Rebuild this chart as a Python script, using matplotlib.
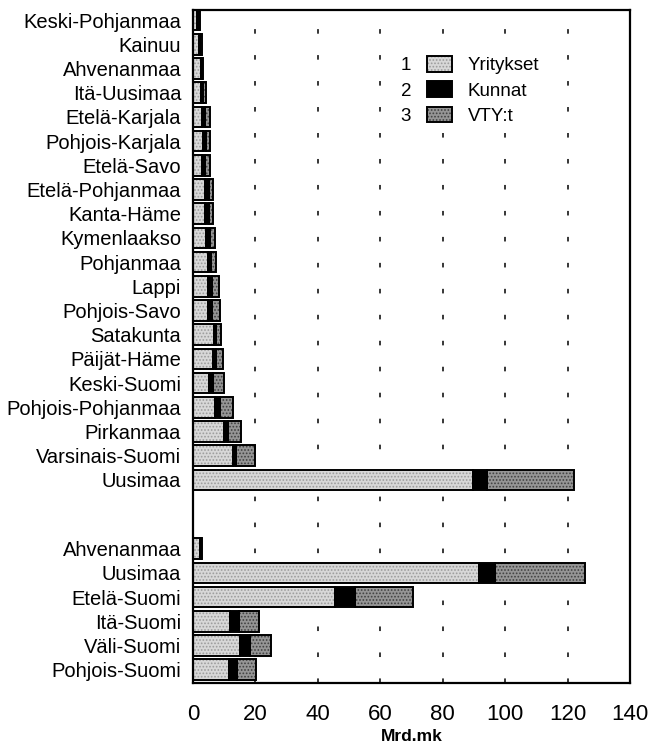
import matplotlib
matplotlib.use("Agg")
import matplotlib.pyplot as plt
from matplotlib.patches import Patch, Rectangle
from matplotlib.legend_handler import HandlerPatch
import numpy as np

# ---- data ----
regions = ['Keski-Pohjanmaa', 'Kainuu', 'Ahvenanmaa', 'Itä-Uusimaa', 'Etelä-Karjala',
           'Pohjois-Karjala', 'Etelä-Savo', 'Etelä-Pohjanmaa', 'Kanta-Häme', 'Kymenlaakso',
           'Pohjanmaa', 'Lappi', 'Pohjois-Savo', 'Satakunta', 'Päijät-Häme', 'Keski-Suomi',
           'Pohjois-Pohjanmaa', 'Pirkanmaa', 'Varsinais-Suomi', 'Uusimaa']
reg_yritykset = [1.3, 1.8, 2.6, 2.6, 3.0, 3.1, 3.0, 4.0, 4.0, 4.3,
                 4.7, 4.8, 4.7, 6.6, 6.5, 5.1, 7.1, 9.8, 12.7, 89.6]
reg_kunnat = [0.5, 0.6, 0.2, 0.7, 0.9, 1.0, 0.9, 1.0, 1.2, 1.1,
              1.2, 1.3, 1.4, 0.8, 0.9, 1.4, 1.6, 1.5, 1.1, 4.6]
reg_vty = [0.4, 0.5, 0.3, 1.0, 1.5, 1.5, 1.5, 1.5, 1.3, 1.6,
           1.4, 2.3, 2.5, 1.5, 2.3, 3.5, 4.0, 4.1, 6.1, 27.9]

areas = ['Ahvenanmaa', 'Uusimaa', 'Etelä-Suomi', 'Itä-Suomi', 'Väli-Suomi', 'Pohjois-Suomi']
area_yritykset = [2.4, 91.5, 45.5, 11.8, 15.0, 11.4]
area_kunnat = [0.2, 5.1, 6.5, 2.8, 3.3, 2.6]
area_vty = [0.2, 29.0, 18.4, 6.7, 6.7, 6.2]

series_names = ['Yritykset', 'Kunnat', 'VTY:t']
x_ticks = [0, 20, 40, 60, 80, 100, 120, 140]
x_label = 'Mrd.mk'

plt.rcParams['font.family'] = ['Liberation Sans', 'DejaVu Sans']
plt.rcParams['hatch.linewidth'] = 0.8

fig = plt.figure(figsize=(6.51, 7.47), dpi=100)
ax = fig.add_axes([193/651, 1-683/747, (630-193)/651, (683-10)/747])

labels = regions + areas
pos = list(np.arange(len(regions), dtype=float)) + list(len(regions) - 1 + 2.85 + np.arange(len(areas)))
Y = np.array(reg_yritykset + area_yritykset)
K = np.array(reg_kunnat + area_kunnat)
V = np.array(reg_vty + area_vty)

h = 0.85
styles = [
    dict(face='#d8d8d8', hatch='.....', hc='#9c9c9c'),
    dict(face='#000000', hatch=None, hc='#000000'),
    dict(face='#959595', hatch='.....', hc='#404040'),
]
lefts = [np.zeros_like(Y), Y, Y + K]
vals = [Y, K, V]
handles = []
for st, left, v, name in zip(styles, lefts, vals, series_names):
    ax.barh(pos, v, left=left, height=h, color=st['face'], edgecolor=st['hc'],
            hatch=st['hatch'], linewidth=0, zorder=2)
    ax.barh(pos, v, left=left, height=h, fill=False, edgecolor='black',
            linewidth=1.4, zorder=3)
    handles.append(Patch(facecolor=st['face'], edgecolor=st['hc'], hatch=st['hatch'],
                         linewidth=0))

ax.set_xlim(0, 140)
ax.set_ylim(27.4, -0.42)
ax.set_yticks(pos)
ax.set_yticklabels(labels, fontsize=14.5)
ax.set_xticks(x_ticks)
ax.set_xticklabels([str(t) for t in x_ticks], fontsize=16)
ax.tick_params(axis='both', length=0)
ax.tick_params(axis='y', pad=8.5)
ax.tick_params(axis='x', pad=15)
for s in ax.spines.values():
    s.set_linewidth(1.6)

for xv in x_ticks[1:-1]:
    ax.axvline(xv, color='black', linewidth=1.1, linestyle=(0, (3, 14)), zorder=1)

ax.set_xlabel(x_label, fontsize=12.5, fontweight='bold', labelpad=3)


class OutlinedHandler(HandlerPatch):
    def create_artists(self, legend, orig_handle, xdescent, ydescent, width, height, fontsize, trans):
        r1 = Rectangle((-xdescent, -ydescent), width, height, facecolor=orig_handle.get_facecolor(),
                       edgecolor=orig_handle.get_edgecolor(), hatch=orig_handle.get_hatch(),
                       linewidth=0, transform=trans)
        r2 = Rectangle((-xdescent, -ydescent), width, height, fill=False, edgecolor='black',
                       linewidth=1.4, transform=trans)
        return [r1, r2]


leg = ax.legend(handles, series_names, loc='upper left', bbox_to_anchor=(0.522, 0.94),
                frameon=True, facecolor='white', edgecolor='none', framealpha=1,
                fontsize=13.5, handlelength=1.35, handleheight=0.9,
                handletextpad=0.85, labelspacing=0.38, borderpad=0.3, borderaxespad=0,
                fancybox=False, handler_map={Patch: OutlinedHandler()})
leg.set_zorder(5)

fig.canvas.draw()
W, H = fig.get_size_inches() * fig.dpi
for i, t in enumerate(leg.get_texts()):
    bb = t.get_window_extent()
    yc = (bb.y0 + bb.y1) / 2 / H
    fig.text(406 / W, yc, str(i + 1), fontsize=13.5, ha='center', va='center', zorder=6)

fig.savefig('out.png', dpi=100)
